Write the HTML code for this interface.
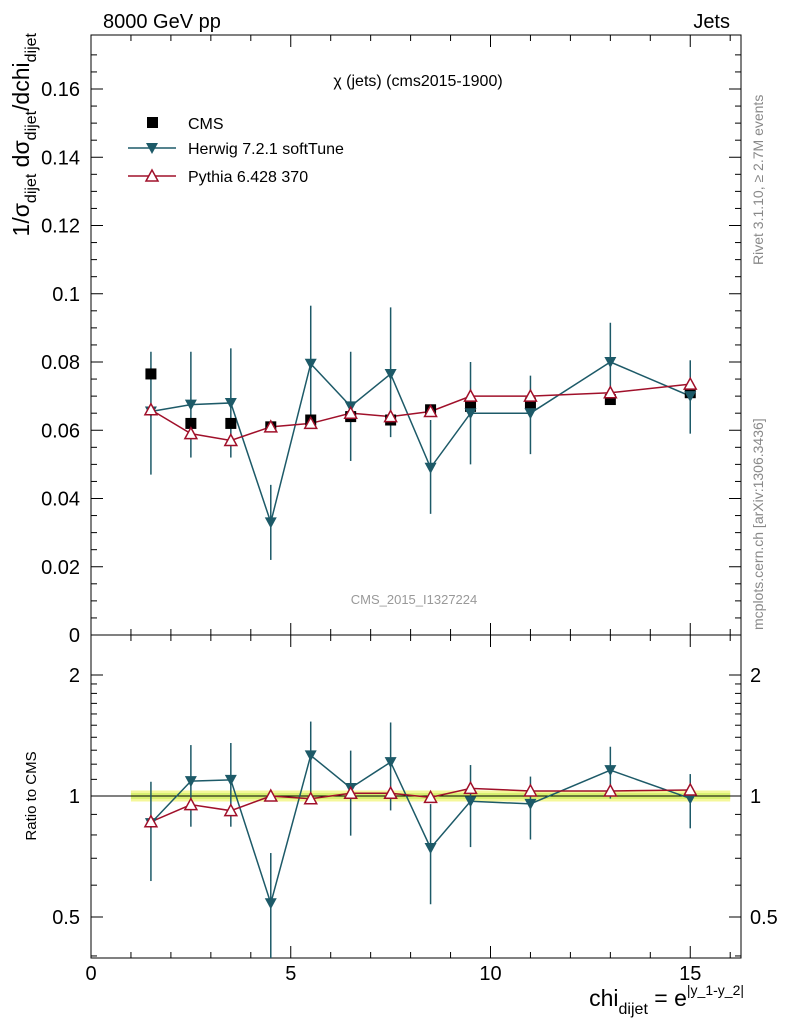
<!DOCTYPE html>
<html><head><meta charset="utf-8"><style>
body{margin:0;background:#fff;}
svg{font-family:"Liberation Sans","DejaVu Sans",sans-serif;}
</style></head><body>
<svg id="c" width="786" height="1024" viewBox="0 0 786 1024" xmlns="http://www.w3.org/2000/svg">
<text x="103" y="28" font-size="20">8000 GeV pp</text>
<text x="730" y="28" font-size="20" text-anchor="end">Jets</text>
<rect x="91" y="35" width="650" height="600" fill="none" stroke="#000"/>
<rect x="91" y="635" width="650" height="323" fill="none" stroke="#000"/>
<text x="418" y="86" font-size="16" text-anchor="middle">χ (jets) (cms2015-1900)</text>
<text x="414" y="604" font-size="13" fill="#999" text-anchor="middle">CMS_2015_I1327224</text>
<g>
<rect x="147" y="117" width="11" height="11" fill="#000"/>
<text x="188" y="129" font-size="16">CMS</text>
<line x1="128" y1="148" x2="176" y2="148" stroke="#1d5a68" stroke-width="1.5"/>
<path d="M146,143 L158,143 L152,154 Z" fill="#1d5a68"/>
<text x="188" y="154" font-size="16">Herwig 7.2.1 softTune</text>
<line x1="128" y1="176" x2="176" y2="176" stroke="#a0102a" stroke-width="1.5"/>
<path d="M152,170 L158,181 L146,181 Z" fill="#fff" stroke="#a0102a" stroke-width="1.5"/>
<text x="188" y="182" font-size="16">Pythia 6.428 370</text>
</g>
<text transform="translate(29,33) rotate(-90)" font-size="23" text-anchor="end">1/σ<tspan font-size="16" dy="7">dijet</tspan><tspan dy="-7"> dσ</tspan><tspan font-size="16" dy="7">dijet</tspan><tspan dy="-7">/dchi</tspan><tspan font-size="16" dy="7">dijet</tspan></text>
<text transform="translate(36,796) rotate(-90)" font-size="15" text-anchor="middle">Ratio to CMS</text>
<text transform="translate(763,265) rotate(-90)" font-size="14" fill="#888">Rivet 3.1.10, ≥ 2.7M events</text>
<text transform="translate(763,630) rotate(-90)" font-size="14" fill="#888">mcplots.cern.ch [arXiv:1306.3436]</text>
<text x="744" y="1006" font-size="23" text-anchor="end">chi<tspan font-size="16" dy="8">dijet</tspan><tspan dy="-8"> = e</tspan><tspan font-size="14" dy="-11">|y_1-y_2|</tspan></text>
<g id="g"></g>
</svg>
<script>
const xs=[1.5,2.5,3.5,4.5,5.5,6.5,7.5,8.5,9.5,11,13,15];
const cms=[0.0765,0.062,0.062,0.061,0.063,0.064,0.063,0.066,0.067,0.068,0.069,0.071];
const herwig=[0.0655,0.0675,0.068,0.033,0.0795,0.067,0.0765,0.049,0.065,0.065,0.080,0.070];
const herwigUp=[0.083,0.083,0.084,0.044,0.0965,0.083,0.096,0.063,0.080,0.076,0.0915,0.0805];
const herwigDn=[0.047,0.052,0.052,0.022,0.062,0.051,0.058,0.0355,0.050,0.053,0.068,0.059];
const pythia=[0.066,0.059,0.057,0.061,0.062,0.065,0.064,0.0655,0.070,0.070,0.071,0.0735];
const yTicks=[0,0.02,0.04,0.06,0.08,0.1,0.12,0.14,0.16];
const yTickLabels=["0","0.02","0.04","0.06","0.08","0.1","0.12","0.14","0.16"];
const xTicks=[0,5,10,15];
const rTicks=[0.5,1,2];
const rTickLabels=["0.5","1","2"];
const X=v=>91+v*39.95;
const Y=v=>635-v*3412.5;
const R=r=>796-Math.log2(r)*121;
const NS="http://www.w3.org/2000/svg";
const g=document.getElementById('g');
function el(t,a,nm,p){const e=document.createElementNS(NS,t);for(const k in a)e.setAttribute(k,a[k]);


(p||g).appendChild(e);return e;}
function txt(x,y,s,anc,nm,fs){const t=el('text',{x:x,y:y,'font-size':fs||20,'text-anchor':anc},nm);t.textContent=s;}
for(let v=0;v<=16;v++){const maj=v%5==0,L=maj?12:6,x=X(v);
for(const [yb,yt] of [[635,35],[958,635]]){el('line',{x1:x,y1:yb,x2:x,y2:yb-L,stroke:'#000'},'x-tick');el('line',{x1:x,y1:yt,x2:x,y2:yt+L,stroke:'#000'},'x-tick');}}
xTicks.forEach(v=>txt(X(v),980,String(v),'middle','x-tick-label'));
for(let v=0;v<=0.175;v+=0.005){const maj=Math.abs(v/0.02-Math.round(v/0.02))<1e-6,L=maj?12:6,y=Y(v);if(y<35)break;
el('line',{x1:91,y1:y,x2:91+L,y2:y,stroke:'#000'},'y-tick');el('line',{x1:741,y1:y,x2:741-L,y2:y,stroke:'#000'},'y-tick');}
yTicks.forEach((v,i)=>txt(80,Y(v)+7,yTickLabels[i],'end','y-tick-label'));
[0.4,0.5,0.6,0.7,0.8,0.9,1,1.1,1.2,1.3,1.4,1.5,1.6,1.7,1.8,1.9,2].forEach(r=>{const y=R(r);if(y>958)return;const maj=rTicks.includes(r),L=maj?12:6;
el('line',{x1:91,y1:y,x2:91+L,y2:y,stroke:'#000'},'ratio-tick');el('line',{x1:741,y1:y,x2:741-L,y2:y,stroke:'#000'},'ratio-tick');});
rTicks.forEach((r,i)=>{txt(80,R(r)+7,rTickLabels[i],'end','ratio-tick-label');txt(750,R(r)+7,rTickLabels[i],'start','ratio-tick-label-right');});
el('rect',{x:X(1),y:R(1)-5.5,width:X(16)-X(1),height:11,fill:'#f4f79a'},'ratio-band');
el('rect',{x:X(1),y:R(1)-3,width:X(16)-X(1),height:6,fill:'#d8f070'},'ratio-band-inner');
el('line',{x1:91,y1:R(1),x2:741,y2:R(1),stroke:'#000'},'ratio-unity-line');
const HC='#1d5a68',PC='#a0102a';
function series(vals,fy,col,nm){el('polyline',{points:vals.map((v,i)=>X(xs[i])+','+fy(v,i)).join(' '),fill:'none',stroke:col,'stroke-width':1.5},nm+'-line');}
function tri(x,y,col,down,nm){if(down)el('path',{d:`M${x-6},${y-5} L${x+6},${y-5} L${x},${y+6} Z`,fill:col},nm);
else el('path',{d:`M${x},${y-6} L${x+6},${y+5} L${x-6},${y+5} Z`,fill:'#fff',stroke:col,'stroke-width':1.5},nm);}
xs.forEach((x,i)=>{el('line',{x1:X(x),y1:Y(herwigUp[i]),x2:X(x),y2:Y(herwigDn[i]),stroke:HC,'stroke-width':1.5},'herwig-errorbar');});
series(herwig,v=>Y(v),HC,'herwig');series(pythia,v=>Y(v),PC,'pythia');
xs.forEach((x,i)=>{el('rect',{x:X(x)-5.5,y:Y(cms[i])-5.5,width:11,height:11,fill:'#000'},'cms-point');});
xs.forEach((x,i)=>{tri(X(x),Y(herwig[i]),HC,true,'herwig-point');tri(X(x),Y(pythia[i]),PC,false,'pythia-point');});
const clip=y=>Math.min(958,Math.max(635,y));
xs.forEach((x,i)=>{el('line',{x1:X(x),y1:clip(R(herwigUp[i]/cms[i])),x2:X(x),y2:clip(R(herwigDn[i]/cms[i])),stroke:HC,'stroke-width':1.5},'ratio-herwig-errorbar');});
series(herwig,(v,i)=>R(v/cms[i]),HC,'ratio-herwig');series(pythia,(v,i)=>R(v/cms[i]),PC,'ratio-pythia');
xs.forEach((x,i)=>{tri(X(x),R(herwig[i]/cms[i]),HC,true,'ratio-herwig-point');tri(X(x),R(pythia[i]/cms[i]),PC,false,'ratio-pythia-point');});
</script>
</body></html>
